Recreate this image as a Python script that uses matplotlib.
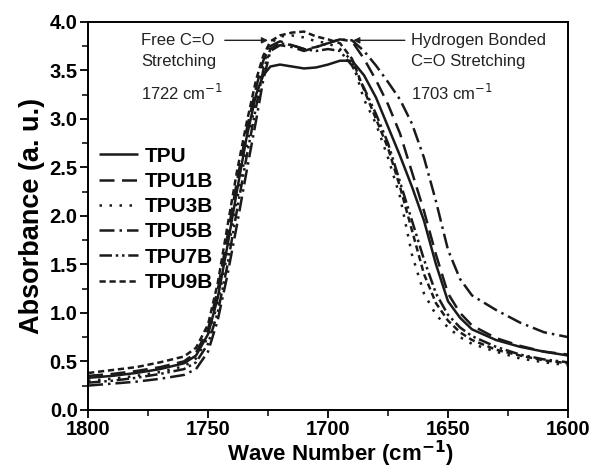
import numpy as np
import matplotlib.pyplot as plt
from matplotlib.ticker import MultipleLocator

plt.rcParams['font.family'] = ['Liberation Sans', 'DejaVu Sans']

# wave numbers (cm^-1)
wn = [1800, 1790, 1780, 1770, 1760, 1755, 1750, 1746, 1742, 1738, 1734, 1730,
      1727, 1724, 1720, 1715, 1710, 1705, 1700, 1695, 1690, 1685, 1680, 1675,
      1670, 1665, 1660, 1655, 1650, 1645, 1640, 1630, 1620, 1610, 1600]

tpu = [0.33, 0.35, 0.38, 0.42, 0.48, 0.56, 0.78, 1.15, 1.68, 2.25, 2.80, 3.25,
       3.45, 3.54, 3.56, 3.54, 3.52, 3.53, 3.56, 3.60, 3.60, 3.45, 3.22, 2.92,
       2.62, 2.30, 1.95, 1.50, 1.12, 0.95, 0.83, 0.72, 0.65, 0.60, 0.56]
tpu1b = [0.35, 0.37, 0.40, 0.44, 0.50, 0.59, 0.83, 1.23, 1.78, 2.35, 2.88, 3.32,
         3.60, 3.75, 3.80, 3.76, 3.72, 3.74, 3.78, 3.82, 3.80, 3.62, 3.40, 3.15,
         2.85, 2.45, 2.05, 1.60, 1.20, 1.00, 0.87, 0.74, 0.66, 0.60, 0.57]
tpu3b = [0.30, 0.32, 0.35, 0.39, 0.45, 0.53, 0.75, 1.10, 1.60, 2.15, 2.70, 3.20,
         3.55, 3.78, 3.85, 3.86, 3.84, 3.80, 3.78, 3.72, 3.60, 3.20, 2.95, 2.60,
         2.20, 1.60, 1.20, 0.98, 0.85, 0.75, 0.68, 0.60, 0.53, 0.49, 0.46]
tpu5b = [0.25, 0.27, 0.29, 0.32, 0.36, 0.42, 0.60, 0.92, 1.38, 1.90, 2.45, 2.98,
         3.40, 3.70, 3.76, 3.74, 3.70, 3.74, 3.78, 3.82, 3.81, 3.70, 3.55, 3.38,
         3.20, 2.95, 2.60, 2.15, 1.65, 1.35, 1.18, 1.03, 0.90, 0.80, 0.75]
tpu7b = [0.28, 0.30, 0.33, 0.37, 0.42, 0.49, 0.68, 1.00, 1.48, 2.05, 2.60, 3.12,
         3.50, 3.72, 3.78, 3.76, 3.72, 3.70, 3.72, 3.70, 3.55, 3.32, 3.05, 2.75,
         2.35, 1.95, 1.55, 1.20, 0.98, 0.85, 0.76, 0.65, 0.57, 0.52, 0.49]
tpu9b = [0.38, 0.41, 0.44, 0.49, 0.55, 0.64, 0.88, 1.30, 1.88, 2.45, 2.95, 3.40,
         3.65, 3.80, 3.86, 3.89, 3.90, 3.85, 3.82, 3.78, 3.62, 3.30, 3.00, 2.70,
         2.30, 1.85, 1.40, 1.10, 0.92, 0.80, 0.72, 0.62, 0.56, 0.51, 0.48]

labels = ["TPU", "TPU1B", "TPU3B", "TPU5B", "TPU7B", "TPU9B"]
series = [tpu, tpu1b, tpu3b, tpu5b, tpu7b, tpu9b]
styles = [(0, ()), (0, (6, 3)), (0, (1, 3)), (0, (6, 2, 1, 2)),
          (0, (5, 1.5, 1, 1.5, 1, 1.5)), (0, (2.5, 1.5))]

fig = plt.figure(figsize=(5.91, 4.76), dpi=100)
ax = fig.add_axes([0.149, 0.139, 0.812, 0.815])

for y, lab, ls in zip(series, labels, styles):
    ax.plot(wn, y, color="#1a1a1a", lw=1.8, linestyle=ls, label=lab)

ax.set_xlim(1800, 1600)
ax.set_ylim(0, 4.0)
ax.xaxis.set_major_locator(MultipleLocator(50))
ax.xaxis.set_minor_locator(MultipleLocator(25))
ax.yaxis.set_major_locator(MultipleLocator(0.5))
ax.yaxis.set_minor_locator(MultipleLocator(0.25))
ax.yaxis.set_major_formatter(plt.FormatStrFormatter('%.1f'))
ax.tick_params(which='major', direction='out', length=6, width=1.3,
               labelsize=14.5, pad=1.5)
ax.tick_params(which='minor', direction='out', length=4, width=1.1)
for lbl in ax.get_xticklabels() + ax.get_yticklabels():
    lbl.set_fontweight('bold')
for s in ax.spines.values():
    s.set_linewidth(1.4)

ax.set_xlabel("Wave Number (cm$^{\\mathbf{-1}}$)", fontsize=16, fontweight='bold',
              labelpad=0, x=0.527)
ax.set_ylabel("Absorbance (a. u.)", fontsize=19.5, fontweight='bold', labelpad=3)

leg = ax.legend(loc='center left', bbox_to_anchor=(0.022, 0.491), frameon=False,
                borderpad=0, borderaxespad=0,
                handlelength=1.9, handletextpad=0.3, labelspacing=0.3,
                prop={'weight': 'bold', 'size': 15})

tc = "#222222"
ax.text(1778, 3.81, "Free C=O", fontsize=12, va='center', ha='left', color=tc)
ax.text(1778, 3.59, "Stretching", fontsize=12, va='center', ha='left', color=tc)
ax.text(1778, 3.27, "1722 cm$^{-1}$", fontsize=12, va='center', ha='left', color=tc)
ax.annotate("", xy=(1725, 3.81), xytext=(1743, 3.81),
            arrowprops=dict(arrowstyle='-|>', color=tc, lw=1, mutation_scale=9,
                            shrinkA=0, shrinkB=0))

ax.text(1665.5, 3.81, "Hydrogen Bonded", fontsize=12, va='center', ha='left', color=tc)
ax.text(1665.5, 3.59, "C=O Stretching", fontsize=12, va='center', ha='left', color=tc)
ax.text(1665.5, 3.27, "1703 cm$^{-1}$", fontsize=12, va='center', ha='left', color=tc)
ax.annotate("", xy=(1689.5, 3.81), xytext=(1668, 3.81),
            arrowprops=dict(arrowstyle='-|>', color=tc, lw=1, mutation_scale=9,
                            shrinkA=0, shrinkB=0))

fig.savefig("out.png", dpi=100)
